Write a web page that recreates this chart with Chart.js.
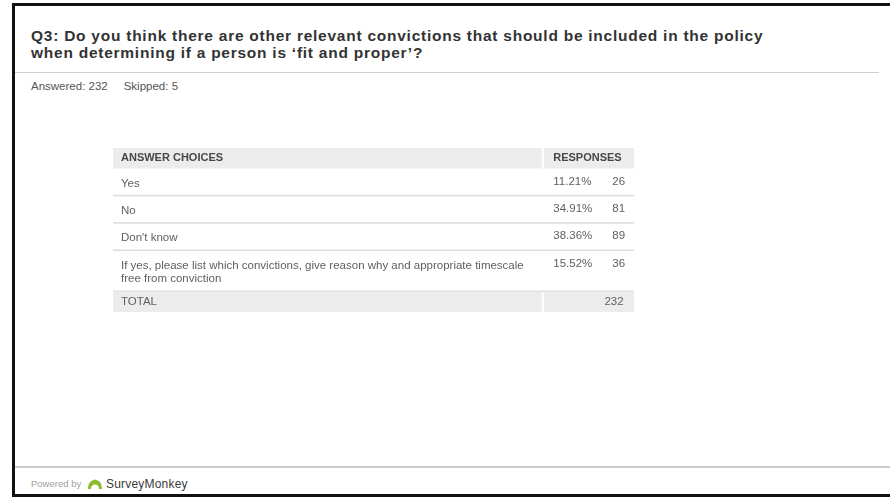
<!doctype html>
<html lang="en">
  <head>
    <title>Q3 fit and proper</title>
    <style>
      body { margin: 0; width: 890px; height: 497px; position: relative; overflow: hidden; background: #fff;
             font-family: "Liberation Sans", Arial, sans-serif; }
      .abs { position: absolute; }
      #frame { left: 12px; top: 3px; width: 890px; height: 488px; border-left: 3px solid #111; border-top: 3px solid #111; border-bottom: 3px solid #111; }
      #title { left: 31px; top: 28px; width: 850px; font-size: 15.5px; line-height: 16.5px; letter-spacing: 0.75px; font-weight: bold; color: #333; }
      #sep1 { left: 15px; top: 72px; width: 864px; height: 1px; background: #cfcfcf; }
      #answered { left: 31px; top: 81px; font-size: 11.5px; line-height: 1; color: #555; white-space: pre; }
      #table { left: 113px; top: 148px; width: 521px; height: 164px; }
      #sep2 { left: 15px; top: 466px; width: 875px; height: 2px; background: #cccccc; }
      #powered { left: 31px; top: 479px; font-size: 9.5px; line-height: 1; color: #a0a0a0; }
      #logo { left: 87px; top: 479px; }
      #brand { left: 106px; top: 478px; font-size: 12px; line-height: 1; color: #3a3a3a; letter-spacing: 0.2px; }
    </style>
  </head>
  <body>
    <div id="frame" class="abs"></div>
    <div id="title" class="abs">Q3: Do you think there are other relevant convictions that should be included in the policy<br>when determining if a person is ‘fit and proper’?</div>
    <div id="sep1" class="abs"></div>
    <div id="answered" class="abs"></div>
    <div id="table" class="abs"><canvas id="SAE1"></canvas></div>
    <div id="sep2" class="abs"></div>
    <div id="powered" class="abs">Powered by</div>
    <svg id="logo" class="abs" width="16" height="11" viewBox="0 0 16 11">
      <path d="M1 10 C1 4 4 1 8 1 C12 1 15 4 15 10 L12 10 C12 7 10.5 5.5 8 5.5 C5.5 5.5 4 7 4 10 Z" fill="#8dbb2f"/>
      <circle cx="8" cy="2.5" r="2" fill="#8dbb2f"/>
    </svg>
    <div id="brand" class="abs">SurveyMonkey</div>

  <script src="https://cdn.jsdelivr.net/npm/chart.js"></script>
  <script>

const headers = ['ANSWER CHOICES', 'RESPONSES'];
const choices = ['Yes', 'No', "Don't know",
  'If yes, please list which convictions, give reason why and appropriate timescale free from conviction'];
const percents = [11.21, 34.91, 38.36, 15.52];
const counts = [26, 81, 89, 36];
const totalLabel = 'TOTAL';
const totalCount = 232;
const answered = 232;
const skipped = 5;

document.getElementById('answered').textContent = 'Answered: ' + answered + '     Skipped: ' + skipped;

const bodyFont = '11.5px "Liberation Sans", Arial, sans-serif';
const headFont = 'bold 11px "Liberation Sans", Arial, sans-serif';

function wrap(ctx, text, maxW) {
  const words = text.split(' ');
  const lines = [];
  let line = '';
  words.forEach(w => {
    const test = line ? line + ' ' + w : w;
    if (ctx.measureText(test).width > maxW && line) {
      lines.push(line);
      line = w;
    } else {
      line = test;
    }
  });
  lines.push(line);
  return lines;
}

const measure = document.createElement('canvas').getContext('2d');
measure.font = bodyFont;
const wrapped = choices.map(t => wrap(measure, t, 414));

// row heights in y units: grey rows are compact, answer rows grow with their text
const spans = [0.75, ...wrapped.map(l => 0.5 + 0.5 * l.length), 0.75];
const starts = [];
let acc = 0;
spans.forEach(s => { starts.push(acc); acc += s; });

const tablePlugin = {
  id: 'surveyTable',
  beforeDatasetsDraw(chart) {
    const ctx = chart.ctx;
    const x = chart.scales.x;
    const y = chart.scales.y;
    const left = x.getPixelForValue(0);
    const right = x.getPixelForValue(100);
    const split = x.getPixelForValue(82.5);
    const pctX = x.getPixelForValue(84.5);
    const cntX = x.getPixelForValue(98.3);
    const rowTop = i => y.getPixelForValue(starts[i]);
    const rowBot = i => y.getPixelForValue(starts[i] + spans[i]);

    ctx.save();
    const greyRow = i => {
      ctx.fillStyle = '#ececec';
      ctx.fillRect(left, rowTop(i), split - 1 - left, rowBot(i) - rowTop(i));
      ctx.fillRect(split + 1, rowTop(i), right - split - 1, rowBot(i) - rowTop(i));
    };

    // header
    greyRow(0);
    ctx.font = headFont;
    ctx.fillStyle = '#474747';
    ctx.textBaseline = 'middle';
    ctx.textAlign = 'left';
    const hm = (rowTop(0) + rowBot(0)) / 2;
    ctx.fillText(headers[0], left + 8, hm);
    ctx.fillText(headers[1], pctX, hm);

    // answers
    ctx.font = bodyFont;
    choices.forEach((c, k) => {
      const i = k + 1;
      const t = rowTop(i);
      ctx.fillStyle = '#5f5f5f';
      ctx.textAlign = 'left';
      wrapped[k].forEach((ln, j) => ctx.fillText(ln, left + 8, t + 15 + j * 13));
      ctx.fillText(percents[k].toFixed(2) + '%', pctX, t + 13);
      ctx.textAlign = 'right';
      ctx.fillText(String(counts[k]), cntX, t + 13);
      ctx.fillStyle = '#dcdcdc';
      ctx.fillRect(left, rowBot(i) - 1, right - left, 1.5);
    });

    // total
    const last = spans.length - 1;
    greyRow(last);
    const tm = (rowTop(last) + rowBot(last)) / 2;
    ctx.fillStyle = '#5f5f5f';
    ctx.textAlign = 'left';
    ctx.fillText(totalLabel, left + 8, tm);
    ctx.textAlign = 'right';
    ctx.fillText(String(totalCount), x.getPixelForValue(98), tm);
    ctx.restore();
  }
};

const ctx = document.getElementById('SAE1');

new Chart(ctx, {
  type: 'scatter',
  data: {
    datasets: [{
      label: 'Responses',
      data: counts.map((c, k) => ({ x: 98.3, y: starts[k + 1] + spans[k + 1] / 2 })),
      pointRadius: 0
    }]
  },
  options: {
    responsive: true,
    maintainAspectRatio: false,
    animation: false,
    events: [],
    layout: { padding: 0 },
    scales: {
      x: { type: 'linear', min: 0, max: 100, display: false },
      y: { type: 'linear', min: 0, max: acc, reverse: true, display: false }
    },
    plugins: {
      legend: { display: false },
      tooltip: { enabled: false }
    }
  },
  plugins: [tablePlugin]
});

</script>
  </body>
</html>
